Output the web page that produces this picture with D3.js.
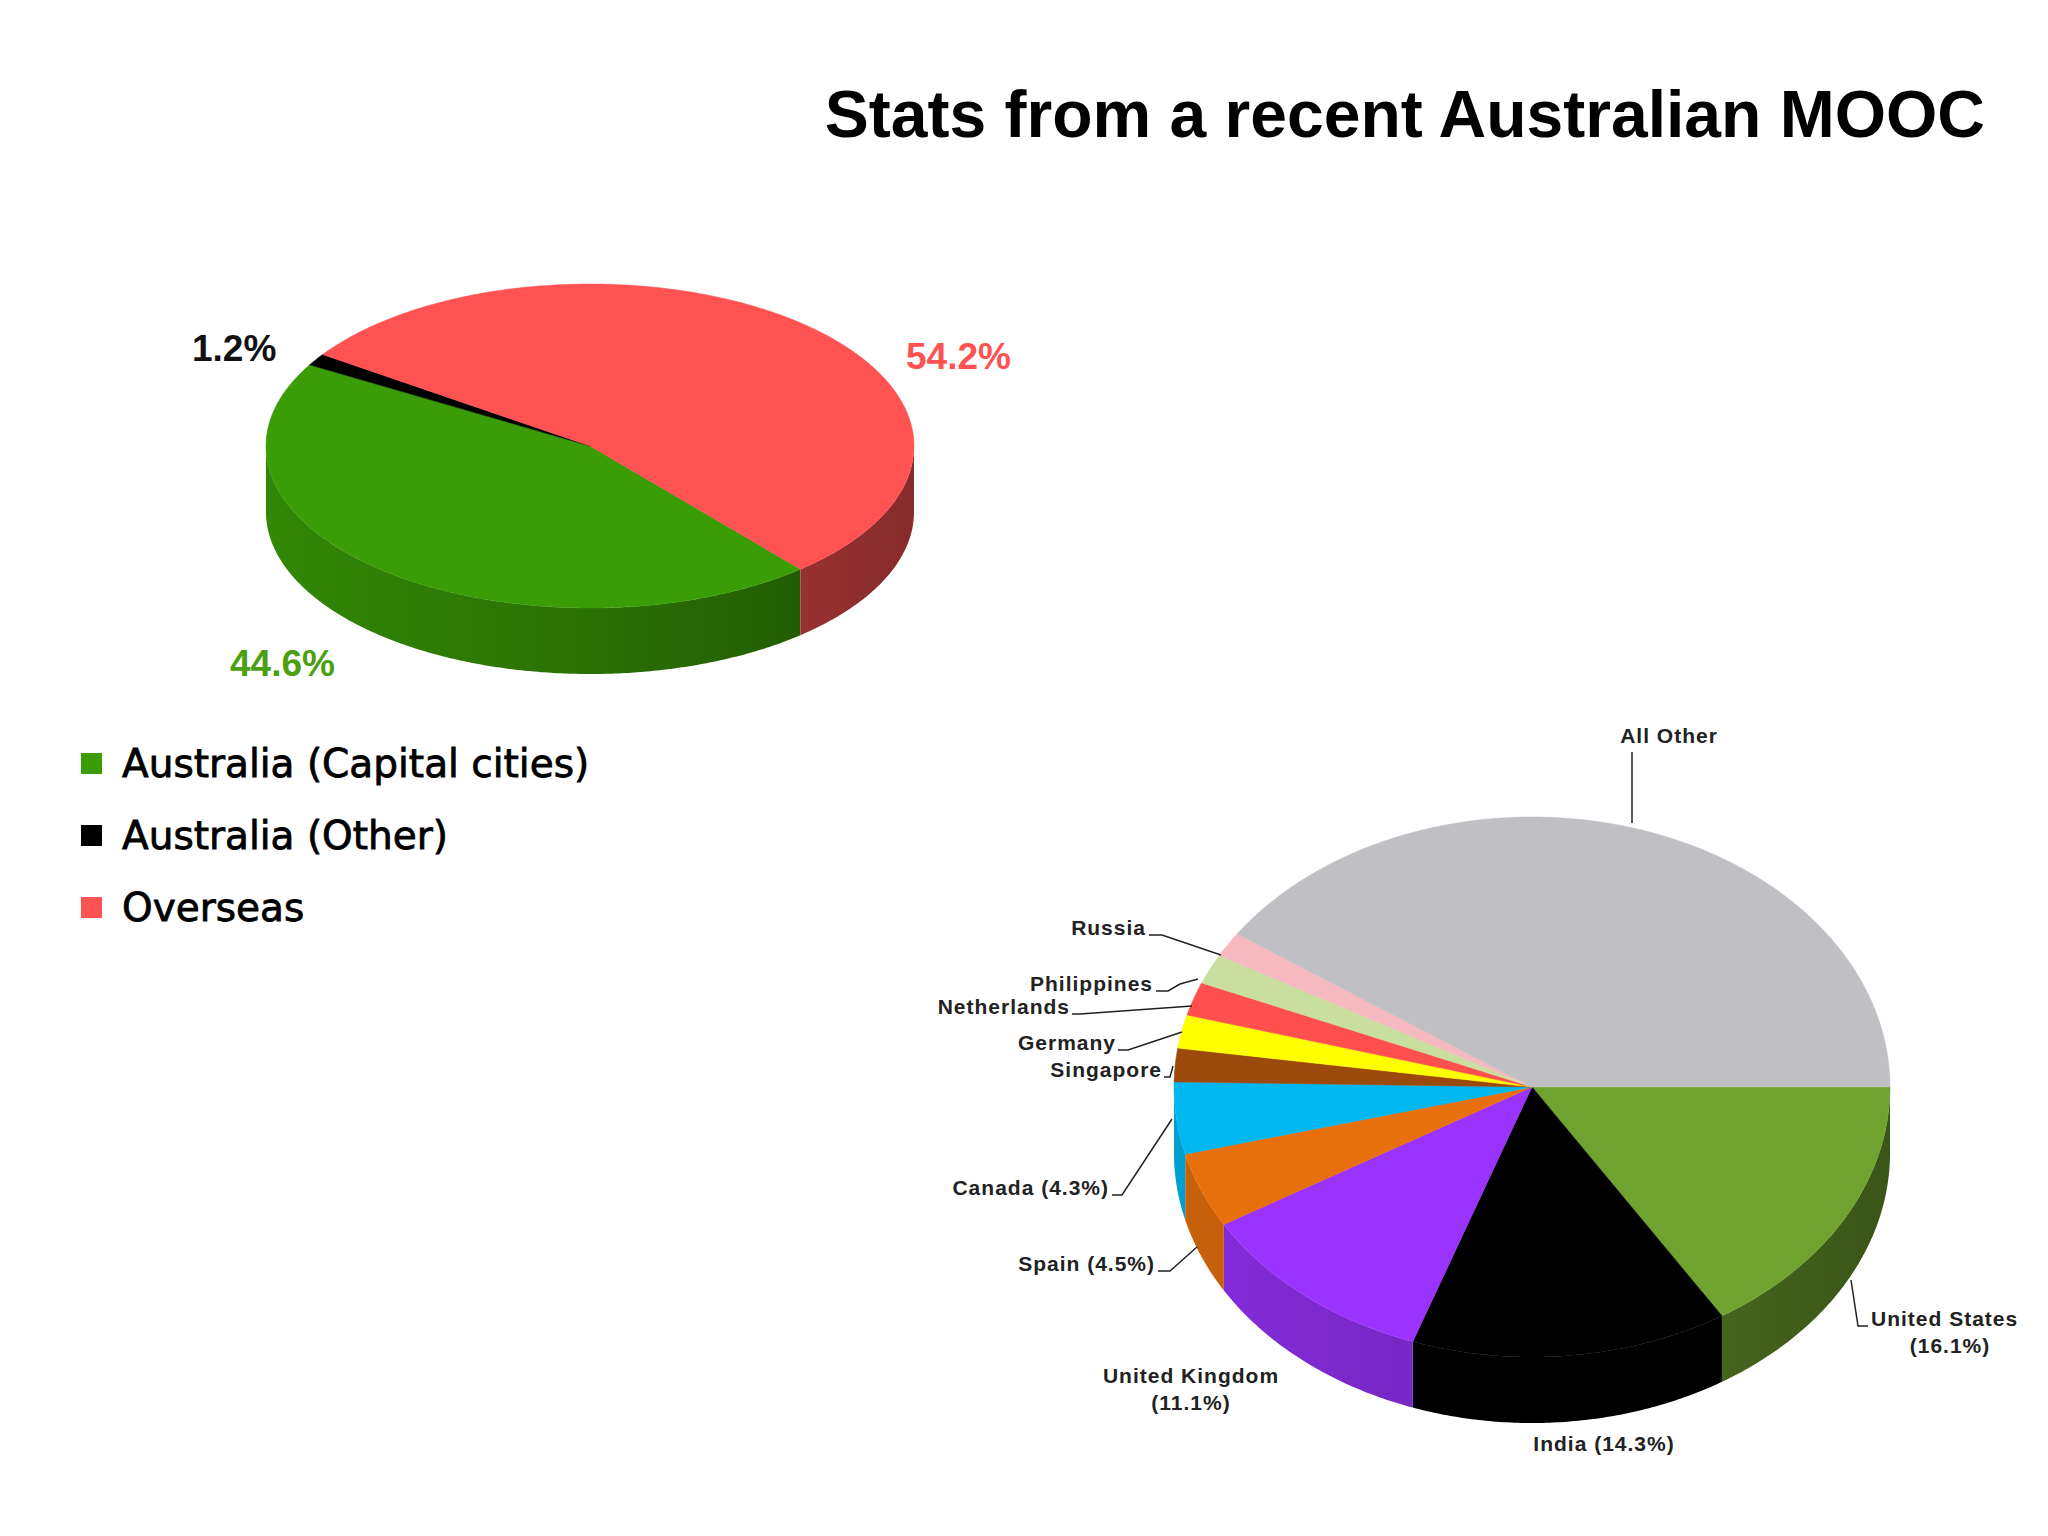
<!DOCTYPE html><html><head><meta charset="utf-8">
<script src="https://cdn.jsdelivr.net/npm/d3@7/dist/d3.min.js"></script>
<style>body{margin:0;background:#fff}</style></head><body>
<svg id="c" width="2048" height="1536"></svg>
<script>
const topCats=["Australia (Capital cities)","Australia (Other)","Overseas"];
const topVals=[44.6,1.2,54.2];
const topColors=["#3a9c06","#000000","#ff5252"];
const topLabels=["44.6%","1.2%","54.2%"];
const botCats=["United States","India","United Kingdom","Spain","Canada","Singapore","Germany","Netherlands","Philippines","Russia","All Other"];
const botVals=[16.1,14.3,11.1,4.5,4.3,2.0,2.0,2.0,1.8,1.5,40.4];
const botColors=["#6fa22e","#000000","#9b33ff","#e8700c","#00b7f0","#9c4a0c","#ffff00","#ff4f4f","#c8dfa0","#f7b9c0","#c0bfc4"];
const botLabels=[["United States","(16.1%)"],["India (14.3%)"],["United Kingdom","(11.1%)"],["Spain (4.5%)"],["Canada (4.3%)"],["Singapore"],["Germany"],["Netherlands"],["Philippines"],["Russia"],["All Other"]];

const svg=d3.select("#c");
svg.append("text").attr("x",1985).attr("y",137).attr("text-anchor","end")
 .attr("font-family","Liberation Sans, Arial").attr("font-weight","bold").attr("font-size",66).text("Stats from a recent Australian MOOC");
const defs=svg.append("defs");

function pie3d(g,vals,colors,o,id){
  const deg=Math.PI/180;
  const arcs=d3.pie().sort(null).startAngle(o.start*deg).endAngle((o.start+360)*deg)(vals);
  const P=(a,dy=0)=>[o.cx+o.rx*Math.sin(a),o.cy-o.ry*Math.cos(a)+dy];
  const pts=(a0,a1,dy)=>{const n=Math.max(2,Math.ceil((a1-a0)/0.01));return d3.range(n+1).map(i=>P(a0+(a1-a0)*i/n,dy));};
  const line=d3.line();
  // sides
  arcs.forEach((d,i)=>{
    for(let k=-1;k<=1;k++){
      const lo=Math.PI/2+k*2*Math.PI, hi=3*Math.PI/2+k*2*Math.PI;
      const a0=Math.max(d.startAngle,lo),a1=Math.min(d.endAngle,hi);
      if(a1<=a0)continue;
      const gid=id+"g"+i+"_"+(k+1);
      const c=d3.color(colors[i]);
      const gr=defs.append("linearGradient").attr("id",gid).attr("gradientUnits","userSpaceOnUse")
        .attr("x1",o.cx-o.rx).attr("x2",o.cx+o.rx).attr("y1",0).attr("y2",0);
      gr.append("stop").attr("offset",0).attr("stop-color",c.darker(0.4));
      gr.append("stop").attr("offset",0.5).attr("stop-color",c.darker(0.9));
      gr.append("stop").attr("offset",1).attr("stop-color",c.darker(1.8));
      const p=pts(a0,a1,0).concat(pts(a0,a1,o.depth).reverse());
      g.append("path").attr("d",line(p)+"Z").attr("fill",colors[i]==="#000000"?"#000":`url(#${gid})`);
    }
  });
  arcs.forEach((d,i)=>{
    const p=[[o.cx,o.cy]].concat(pts(d.startAngle,d.endAngle,0));
    g.append("path").attr("d",line(p)+"Z").attr("fill",colors[i]).attr("stroke",colors[i]).attr("stroke-width",0.5);
  });
  return arcs;
}
pie3d(svg.append("g"),topVals,topColors,{cx:590,cy:446,rx:324,ry:162,depth:66,start:139.5},"t");
const tl=[[230,676,"#4aa010"],[192,361,"#111"],[906,369,"#ff5252"]];
topLabels.forEach((t,i)=>svg.append("text").attr("x",tl[i][0]).attr("y",tl[i][1]).attr("fill",tl[i][2])
  .attr("font-family","Liberation Sans, Arial").attr("font-weight","bold").attr("font-size",37).text(t));
topCats.forEach((t,i)=>{
  const y=763+i*72;
  svg.append("rect").attr("x",81).attr("y",y-10).attr("width",21).attr("height",21).attr("fill",topColors[i]);
  svg.append("text").attr("x",122).attr("y",y+14).attr("font-family","DejaVu Sans").attr("font-size",39)
    .attr("stroke","#000").attr("stroke-width",0.8).attr("fill","#000").text(t);
});
pie3d(svg.append("g"),botVals,botColors,{cx:1532,cy:1087,rx:358,ry:270,depth:66,start:90},"b");
// labels: [x,y,anchor] and leader polyline
const bl=[
 {x:1871,y:1326,a:"start",x2:1950,l:[[1851,1280],[1858,1326],[1868,1326]]},
 {x:1604,y:1451,a:"middle"},
 {x:1191,y:1383,a:"middle"},
 {x:1155,y:1271,a:"end",l:[[1158,1271],[1170,1271],[1197,1247]]},
 {x:1109,y:1195,a:"end",l:[[1112,1195],[1122,1195],[1172,1119]]},
 {x:1162,y:1077,a:"end",l:[[1164,1077],[1170,1077],[1173,1066]]},
 {x:1116,y:1050,a:"end",l:[[1118,1050],[1128,1050],[1182,1032]]},
 {x:1070,y:1014,a:"end",l:[[1072,1014],[1080,1014],[1192,1006]]},
 {x:1153,y:991,a:"end",l:[[1156,991],[1168,991],[1180,984],[1198,979]]},
 {x:1146,y:935,a:"end",l:[[1149,935],[1162,935],[1221,955]]},
 {x:1669,y:743,a:"middle",l:[[1632,752],[1632,823]]}
];
botLabels.forEach((ls,i)=>{
  const b=bl[i];
  ls.forEach((t,j)=>svg.append("text").attr("x",j&&b.x2?b.x2:b.x).attr("y",b.y+j*27)
    .attr("text-anchor",j&&b.x2?"middle":b.a).attr("font-family","Liberation Sans, Arial").attr("font-weight","bold")
    .attr("font-size",21).attr("letter-spacing",1).attr("fill","#222").text(t));
  if(b.l) svg.append("path").attr("d",d3.line()(b.l)).attr("fill","none").attr("stroke","#222").attr("stroke-width",1.5);
});
</script></body></html>
